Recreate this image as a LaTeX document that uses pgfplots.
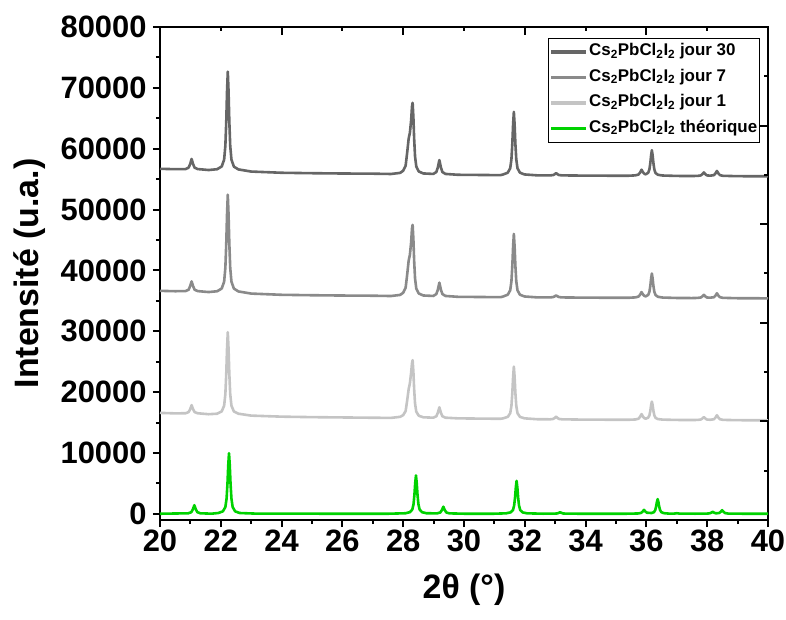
\documentclass[border=0pt]{standalone}
\usepackage{fontspec}
\setmainfont{Liberation Sans}
\usepackage{pgfplots}
\pgfplotsset{compat=1.18}
\definecolor{jthirty}{RGB}{102,102,102}
\definecolor{jseven}{RGB}{138,138,138}
\definecolor{jone}{RGB}{196,196,196}
\definecolor{theo}{RGB}{0,210,0}
\begin{document}
\begin{tikzpicture}
\useasboundingbox (-160bp,-100bp) rectangle (626bp,520bp);
\begin{axis}[
  at={(0,0)}, anchor=south west,
  scale only axis, width=608bp, height=493bp,
  xmin=20, xmax=40, ymin=-1000, ymax=80000,
  xtick={20,22,...,40}, ytick={0,10000,...,80000},
  minor x tick num=1, minor y tick num=1,
  xtick pos=left, ytick pos=left,
  tick align=outside,
  major tick length=7bp, minor tick length=4bp,
  axis line style={line width=2.5bp},
  every tick/.style={black, line width=2bp},
  scaled y ticks=false,
  /pgf/number format/1000 sep={},
  /pgf/number format/assume math mode=true,
  tick label style={font=\bfseries\fontsize{31}{31}\selectfont},
  yticklabel style={xshift=-3bp},
  xticklabel style={yshift=1bp},
  xlabel={2θ (°)}, ylabel={Intensité (u.a.)},
  label style={font=\bfseries\fontsize{34}{34}\selectfont},
  xlabel style={at={(axis description cs:0.5,-0.142)}, anchor=center},
  ylabel style={at={(axis description cs:-0.214,0.5)}, anchor=center},
  no markers,
  every axis plot/.append style={line width=2.6bp, line join=round},
  legend style={at={(0.987,0.978)}, anchor=north east, draw=black, line width=0.8bp, fill=white,
    font=\bfseries\fontsize{17}{17}\selectfont, inner xsep=1bp, inner ysep=1bp,
    nodes={text height=12bp, text depth=4.5bp, inner ysep=4.5bp, inner xsep=1.5bp},
    /tikz/every even column/.append style={column sep=0bp}},
  legend cell align=left,
  legend image code/.code={\draw[#1, line width=3bp] (0bp,0bp) -- (35bp,0bp);},
]
\addplot[color=jthirty] coordinates {
(20,56700) (20.5,56640) (20.84,56660) (20.94,56885) (20.99,57445) (21.04,58320) (21.09,57445) (21.14,56885) (21.24,56660)
(21.6,56500) (21.88,56635) (22.03,57080) (22.11,58215) (22.15,60485) (22.18,64545) (22.205,69420) (22.23,72670)
(22.255,69420) (22.28,64545) (22.31,60485) (22.35,58215) (22.43,57060) (22.58,56600)
(23.0,56250) (24.0,56050) (25.0,55980) (26.0,55930) (27.0,55900) (27.6,55850)
(27.9,56035) (28.0,56390) (28.08,57210) (28.13,59325) (28.18,61675) (28.22,62615) (28.26,64613) (28.29,66963) (28.31,67550)
(28.335,65200) (28.36,61675) (28.39,58738) (28.43,57093) (28.51,56270) (28.66,55940)
(28.99,55860) (29.09,56172) (29.14,56940) (29.19,58140) (29.24,56940) (29.29,56172) (29.39,55860)
(29.8,55720) (30.5,55690) (31.2,55660)
(31.29,55775) (31.44,56066) (31.52,56794) (31.56,58250) (31.59,60850) (31.615,63970) (31.64,66050)
(31.665,63970) (31.69,60850) (31.72,58250) (31.76,56794) (31.84,56066) (31.99,55775)
(32.4,55630) (32.83,55620) (32.93,55672) (32.98,55800) (33.03,56000) (33.08,55800) (33.13,55672) (33.23,55620)
(33.8,55590) (34.6,55570) (35.4,55560)
(35.64,55625) (35.74,55760) (35.79,56070) (35.84,56560) (35.89,56115) (35.94,55852) (35.98,55800)
(36.06,56055) (36.1,56620) (36.13,57670) (36.155,58915) (36.18,59755) (36.205,58915) (36.23,57670) (36.26,56620)
(36.3,56015) (36.38,55720) (36.53,55600) (37.0,55530) (37.5,55515)
(37.69,55540) (37.79,55618) (37.84,55810) (37.89,56110) (37.94,55810) (37.99,55618) (38.1,55575)
(38.22,55660) (38.27,55930) (38.32,56350) (38.37,55930) (38.42,55660) (38.52,55550) (39.0,55490) (40.0,55470)
};
\addlegendentry{Cs\textsubscript{2}PbCl\textsubscript{2}I\textsubscript{2} jour 30}
\addplot[color=jseven] coordinates {
(20,36650) (20.5,36590) (20.84,36610) (20.94,36835) (20.99,37395) (21.04,38200) (21.09,37395) (21.14,36835) (21.24,36610)
(21.6,36450) (21.88,36585) (22.03,37030) (22.11,38165) (22.15,40435) (22.18,44495) (22.205,49200) (22.23,52450)
(22.255,49200) (22.28,44495) (22.31,40435) (22.35,38165) (22.43,37030) (22.58,36550)
(23.0,36200) (24.0,36000) (25.0,35930) (26.0,35880) (27.0,35850) (27.6,35800)
(27.9,35985) (28.0,36340) (28.08,37160) (28.13,39275) (28.18,41625) (28.22,42565) (28.26,44563) (28.29,46913) (28.31,47500)
(28.335,45150) (28.36,41625) (28.39,38688) (28.43,37043) (28.51,36220) (28.66,35890)
(28.99,35810) (29.09,36122) (29.14,36850) (29.19,38000) (29.24,36850) (29.29,36122) (29.39,35810)
(29.8,35670) (30.5,35640) (31.2,35610)
(31.29,35725) (31.44,36016) (31.52,36744) (31.56,38200) (31.59,40800) (31.615,43920) (31.64,46000)
(31.665,43920) (31.69,40800) (31.72,38200) (31.76,36744) (31.84,36016) (31.99,35725)
(32.4,35580) (32.83,35570) (32.93,35622) (32.98,35740) (33.03,35900) (33.08,35740) (33.13,35622) (33.23,35570)
(33.8,35540) (34.6,35520) (35.4,35510)
(35.64,35575) (35.74,35710) (35.79,36000) (35.84,36450) (35.89,36050) (35.94,35800) (35.98,35750)
(36.06,35990) (36.1,36520) (36.13,37500) (36.155,38680) (36.18,39500) (36.205,38680) (36.23,37500) (36.26,36520)
(36.3,35965) (36.38,35670) (36.53,35550) (37.0,35480) (37.5,35465)
(37.69,35490) (37.79,35560) (37.84,35730) (37.89,36000) (37.94,35730) (37.99,35560) (38.1,35525)
(38.22,35605) (38.27,35850) (38.32,36250) (38.37,35850) (38.42,35605) (38.52,35500) (39.0,35440) (40.0,35420)
};
\addlegendentry{Cs\textsubscript{2}PbCl\textsubscript{2}I\textsubscript{2} jour 7}
\addplot[color=jone] coordinates {
(20,16600) (20.5,16520) (20.84,16540) (20.94,16722) (20.99,17170) (21.04,17870) (21.09,17170) (21.14,16722) (21.24,16540)
(21.6,16380) (21.88,16463) (22.03,16842) (22.11,17791) (22.15,19688) (22.18,23075) (22.205,27140) (22.23,29850)
(22.255,27140) (22.28,23075) (22.31,19688) (22.35,17791) (22.43,16842) (22.58,16463)
(23.0,16150) (24.0,15980) (25.0,15900) (26.0,15850) (27.0,15800) (27.6,15780)
(27.9,15950) (28.0,16235) (28.08,16900) (28.13,18610) (28.18,20510) (28.22,21460) (28.26,23170) (28.29,24785) (28.31,25260)
(28.335,23360) (28.36,20510) (28.39,18135) (28.43,16805) (28.51,16140) (28.66,15874)
(28.99,15810) (29.09,16044) (29.14,16620) (29.19,17520) (29.24,16620) (29.29,16044) (29.39,15810)
(29.8,15700) (30.5,15660) (31.2,15630)
(31.29,15703) (31.44,15944) (31.52,16546) (31.56,17750) (31.59,19900) (31.615,22480) (31.64,24200)
(31.665,22480) (31.69,19900) (31.72,17750) (31.76,16546) (31.84,15944) (31.99,15703)
(32.4,15560) (32.83,15543) (32.93,15601) (32.98,15745) (33.03,15970) (33.08,15745) (33.13,15601) (33.23,15543)
(33.8,15500) (34.6,15480) (35.4,15465)
(35.64,15518) (35.74,15644) (35.79,15936) (35.84,16397) (35.89,15968) (35.94,15710) (35.98,15650)
(36.06,15824) (36.1,16208) (36.13,16958) (36.155,17858) (36.18,18458) (36.205,17858) (36.23,16958) (36.26,16208)
(36.3,15788) (36.38,15578) (36.53,15494) (37.0,15440) (37.5,15425)
(37.69,15445) (37.79,15510) (37.84,15670) (37.89,15920) (37.94,15670) (37.99,15510) (38.1,15470)
(38.22,15554) (38.27,15810) (38.32,16210) (38.37,15810) (38.42,15554) (38.52,15450) (39.0,15400) (40.0,15380)
};
\addlegendentry{Cs\textsubscript{2}PbCl\textsubscript{2}I\textsubscript{2} jour 1}
\addplot[color=theo] coordinates {
(20,30) (20.93,100) (21.03,282) (21.08,730) (21.13,1430) (21.18,730) (21.23,282) (21.33,100) (21.7,40)
(21.92,149) (22.07,428) (22.15,1125) (22.19,2518) (22.22,5005) (22.245,7990) (22.27,9980)
(22.295,7990) (22.32,5005) (22.35,2518) (22.39,1125) (22.47,428) (22.62,149) (23.2,40) (27.5,30)
(28.07,106) (28.22,282) (28.30,723) (28.34,1605) (28.37,3180) (28.395,5070) (28.42,6330)
(28.445,5070) (28.47,3180) (28.5,1605) (28.54,723) (28.62,282) (28.77,106)
(29.12,95) (29.22,237) (29.27,605) (29.32,1180) (29.37,605) (29.42,237) (29.52,88) (30.0,35) (31.0,35)
(31.38,95) (31.53,246) (31.61,624) (31.65,1380) (31.68,2730) (31.705,4350) (31.73,5430)
(31.755,4350) (31.78,2730) (31.81,1380) (31.85,624) (31.93,246) (32.08,95) (32.6,35)
(32.96,42) (33.06,75) (33.11,155) (33.16,280) (33.21,155) (33.26,75) (33.36,42) (34.0,30) (35.3,30)
(35.72,70) (35.82,153) (35.87,350) (35.92,657) (35.97,370) (36.02,198) (36.17,144)
(36.25,294) (36.29,630) (36.32,1230) (36.345,1950) (36.37,2430) (36.395,1950) (36.42,1230) (36.45,630)
(36.49,294) (36.57,126) (36.72,59) (36.9,45) (37.0,110) (37.1,45) (37.6,35)
(37.98,45) (38.08,94) (38.13,192) (38.18,345) (38.23,200) (38.29,100) (38.39,144) (38.44,325) (38.49,610)
(38.54,320) (38.59,134) (38.69,59) (39.2,32) (40,30)
};
\addlegendentry{Cs\textsubscript{2}PbCl\textsubscript{2}I\textsubscript{2} théorique}
\end{axis}
\begin{axis}[
  at={(0,0)}, anchor=south west,
  scale only axis, width=608bp, height=493bp,
  xmin=0, xmax=10, ymin=0, ymax=10,
  xtick={0,2,...,10}, ytick={0,2,...,10},
  minor tick num=1,
  xtick pos=right, ytick pos=right,
  tick align=inside,
  xticklabels={}, yticklabels={},
  major tick length=8bp, minor tick length=4bp,
  axis line style={draw=none},
  every tick/.style={black, line width=2bp},
]
\end{axis}
\end{tikzpicture}
\end{document}
